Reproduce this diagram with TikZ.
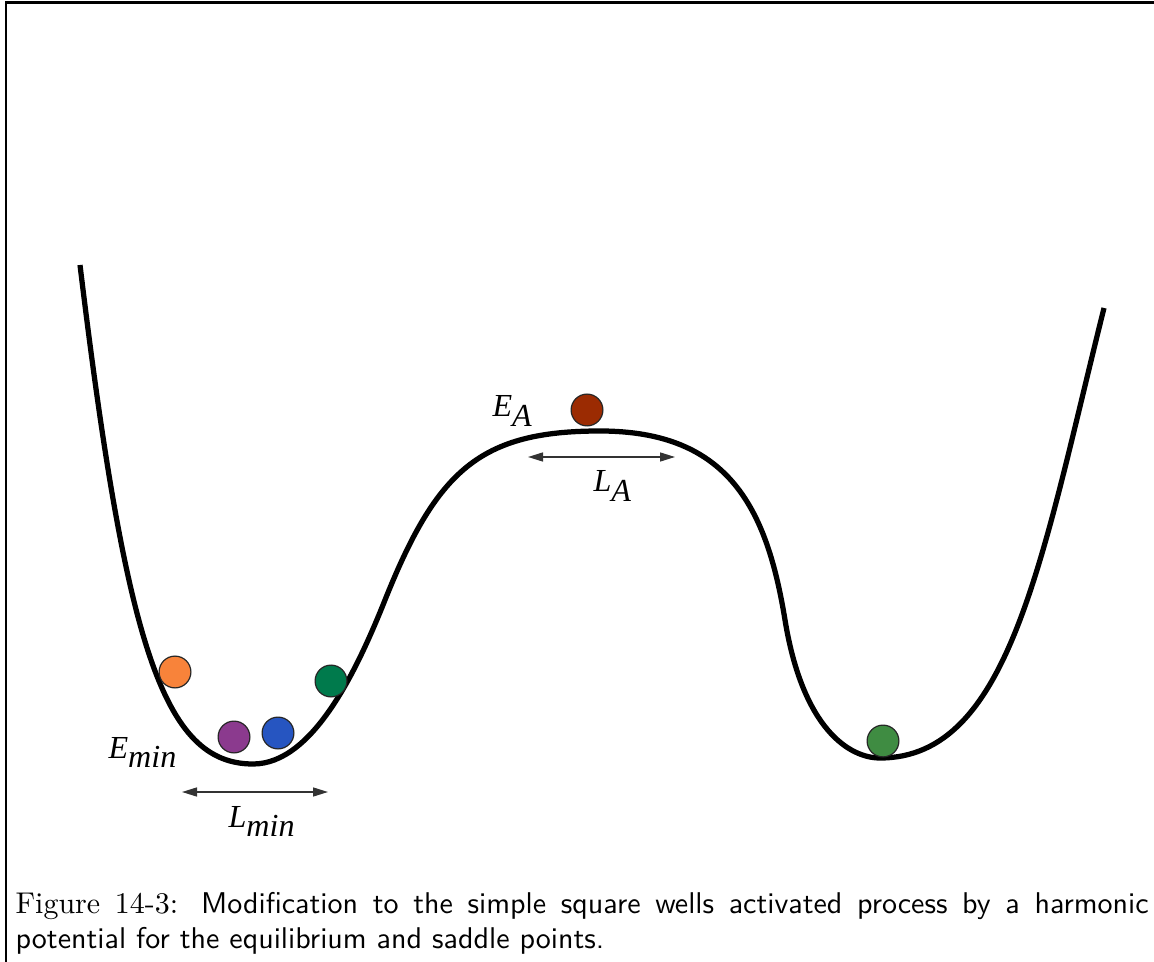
\documentclass[tikz,border=0pt]{standalone}
\usepackage{fontspec}
\newfontfamily\lblfont{Liberation Serif}
\usetikzlibrary{arrows.meta}
\definecolor{ballorange}{RGB}{248,131,58}
\definecolor{ballpurple}{RGB}{139,58,142}
\definecolor{ballblue}{RGB}{38,85,193}
\definecolor{balldkgreen}{RGB}{0,122,76}
\definecolor{ballred}{RGB}{155,43,2}
\definecolor{ballgreen}{RGB}{63,140,66}
\tikzset{
  ball/.style={circle, draw=black!85, line width=0.4pt, minimum size=10.6pt, inner sep=0pt},
  lbl/.style={font=\lblfont\itshape\fontsize{10.7}{12}\selectfont, inner sep=0pt, anchor=base west},
  dimarrow/.style={draw=black!80, line width=0.5pt, {Triangle[length=5pt,width=3pt]}-{Triangle[length=5pt,width=3pt]}},
  potential/.style={line width=1.75pt, line join=round},
  frameline/.style={line width=1pt},
  captext/.style={font=\fontsize{10}{12}\selectfont, inner sep=0pt, anchor=base west}
}
\begin{document}
\begin{tikzpicture}[x=0.33333pt,y=-0.33333pt]
\useasboundingbox (0,0) rectangle (1154,962);
% frame
\draw[frameline] (5,3) -- (1154,3);
\draw[line width=0.85pt] (6,2.5) -- (6,962);
% potential curve
\coordinate (p0) at (80,265);
\coordinate (m1) at (253,764);
\coordinate (i1) at (385,600);
\coordinate (top) at (600,431);
\coordinate (i2) at (785,620);
\coordinate (m2) at (880,758);
\coordinate (p1) at (1104,308);
\draw[potential] (p0)
  .. controls (126,645) and (163,764) .. (m1)
  .. controls (313,764) and (357,670) .. (i1)
  .. controls (437,470) and (480,431) .. (top)
  .. controls (730,431) and (767,510) .. (i2)
  .. controls (803,730) and (850,758) .. (m2)
  .. controls (1010,758) and (1041.5,558) .. (p1);
% balls
\node[ball, fill=ballorange] (borange) at (175,672) {};
\node[ball, fill=ballpurple] (bpurple) at (234,737) {};
\node[ball, fill=ballblue] (bblue) at (278,733) {};
\node[ball, fill=balldkgreen] (bdkgreen) at (331,681) {};
\node[ball, fill=ballred] (bred) at (587,410) {};
\node[ball, fill=ballgreen] (bgreen) at (883,741) {};
% labels
\node[lbl] (Emin) at (108,758) {E\raisebox{-0.3em}{min}};
\node[lbl] (Lmin) at (228,827) {L\raisebox{-0.3em}{min}};
\node[lbl] (EA) at (492,417) {E\raisebox{-0.3em}{A}};
\node[lbl] (LA) at (593,492) {L\raisebox{-0.3em}{A}};
% arrows
\coordinate (lminL) at (182,792);
\coordinate (lminR) at (328,792);
\coordinate (laL) at (528,457);
\coordinate (laR) at (675,457);
\draw[dimarrow] (lminL) -- (lminR);
\draw[dimarrow] (laL) -- (laR);
% caption
\node[captext] (cap1) at (15,913) {\makebox[377.7pt][s]{\rmfamily Figure 14-3: \sffamily Modification to the simple square wells activated process by a harmonic}};
\node[captext] (cap2) at (15,948) {\sffamily potential for the equilibrium and saddle points.};
\end{tikzpicture}
\end{document}
